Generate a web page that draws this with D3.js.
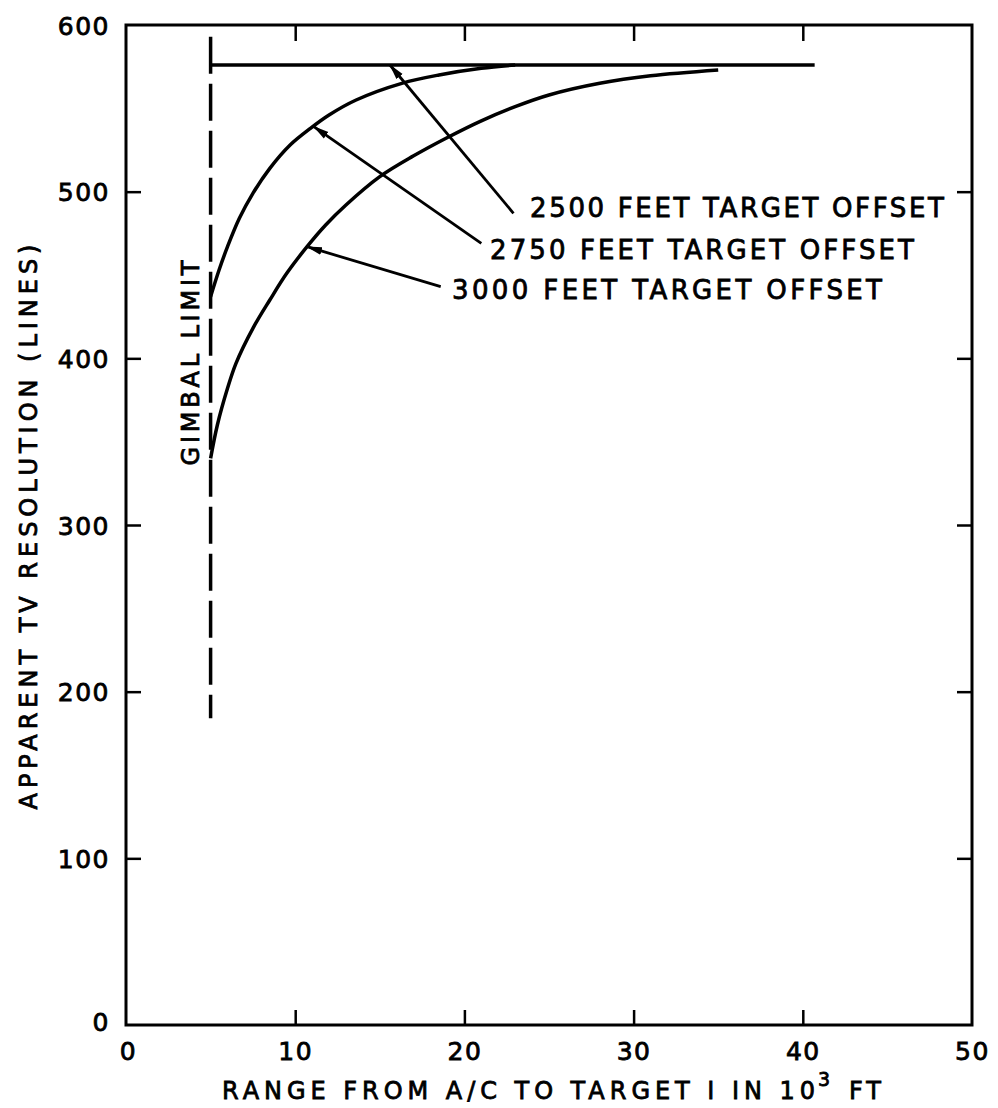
<!DOCTYPE html>
<html>
<head>
<meta charset="utf-8">
<script src="https://cdn.jsdelivr.net/npm/d3@7"></script>
<style>
  html, body { margin: 0; padding: 0; background: #fff; }
  svg text { font-family: 'DejaVu Sans', sans-serif; fill: #000; stroke: #000; stroke-width: 0.8px; }
</style>
</head>
<body>
<div id="chart"></div>
<script>
/** --- DATA --- */

const xTicks = [0, 10, 20, 30, 40, 50];
const yTicks = [0, 100, 200, 300, 400, 500, 600];

// gimbal limit (range in 10^3 ft, resolution span)
const gimbalX = 5;
const gimbalSpan = [184, 593];

// 2500 ft offset: flat at the top
const offset2500X = [5, 40.7];
const offset2500Y = [576, 576];

const offset2750X = [5, 5.5, 6, 6.7, 7.5, 8.5, 9.7, 10.9, 12, 13.6, 16.3, 18.5, 21, 23];
const offset2750Y = [437, 453, 467, 484, 499, 514, 528, 538, 546, 555, 565, 570, 574, 576];

const offset3000X = [5, 5.4, 6, 6.5, 7.5, 8.5, 9.5, 10.7, 11.8, 13, 15, 17, 19, 21, 23, 25, 28, 31, 35];
const offset3000Y = [340, 360, 382, 397, 418, 435, 451, 467, 480, 492, 509, 521.5, 532.5, 542.5, 551, 558, 565, 569.5, 573];

const labels = ['2500 FEET TARGET OFFSET', '2750 FEET TARGET OFFSET', '3000 FEET TARGET OFFSET'];

/** --- DIMENSIONS --- */

const width = 998;
const height = 1108;
const margin = { left: 126, right: 26, top: 25, bottom: 83 };

const svg = d3.select('#chart')
  .append('svg')
  .attr('width', width)
  .attr('height', height);

const defs = svg.append('defs');
defs.append('marker')
  .attr('id', 'head')
  .attr('viewBox', '0 0 16 10')
  .attr('refX', 15)
  .attr('refY', 5)
  .attr('markerWidth', 16)
  .attr('markerHeight', 10)
  .attr('markerUnits', 'userSpaceOnUse')
  .attr('orient', 'auto')
  .append('path')
  .attr('d', 'M0,1 L16,5 L0,9 Z')
  .attr('fill', '#000');

/** --- SCALES --- */

const x = d3.scaleLinear()
  .domain([0, 50])
  .range([margin.left, width - margin.right]);

const y = d3.scaleLinear()
  .domain([0, 600])
  .range([height - margin.bottom, margin.top]);

/** --- AXES --- */

const inner = yTicks.filter(d => d > 0 && d < 600);
const innerX = xTicks.filter(d => d > 0 && d < 50);

// frame
svg.append('rect')
  .attr('x', x(0))
  .attr('y', y(600))
  .attr('width', x(50) - x(0))
  .attr('height', y(0) - y(600))
  .attr('fill', 'none')
  .attr('stroke', '#000')
  .attr('stroke-width', 3);

const gl = svg.append('g')
  .attr('transform', `translate(${x(0)},0)`)
  .call(d3.axisLeft(y).tickValues(yTicks).tickSize(-15).tickPadding(16));

const gb = svg.append('g')
  .attr('transform', `translate(0,${y(0)})`)
  .call(d3.axisBottom(x).tickValues(xTicks).tickSize(-15).tickPadding(17));

svg.append('g')
  .attr('transform', `translate(${x(50)},0)`)
  .call(d3.axisRight(y).tickValues(inner).tickSize(-15).tickFormat(''));

svg.append('g')
  .attr('transform', `translate(0,${y(600)})`)
  .call(d3.axisTop(x).tickValues(innerX).tickSize(-16).tickFormat(''));

svg.selectAll('.domain').remove();
svg.selectAll('.tick line').attr('stroke', '#000').attr('stroke-width', 2.5);
gl.selectAll('.tick').filter(d => d === 0 || d === 600).select('line').remove();
gb.selectAll('.tick').filter(d => d === 0 || d === 50).select('line').remove();

svg.selectAll('.tick text')
  .style('font-family', "'DejaVu Sans', sans-serif")
  .style('font-size', '25px')
  .attr('fill', '#000')
  .attr('letter-spacing', 1.5);

gl.selectAll('.tick text').attr('dy', '0.36em');
gl.selectAll('.tick').filter(d => d === 0).select('text').attr('dy', '0.2em');
gb.selectAll('.tick text').attr('dy', '0.72em');
gb.selectAll('.tick').filter(d => d === 0).select('text').attr('dx', 2);

// axis titles
const xTitle = svg.append('g');
xTitle.append('text')
  .attr('x', 222)
  .attr('y', 1099)
  .attr('textLength', 593)
  .attr('lengthAdjust', 'spacing')
  .style('font-size', '24px')
  .text('RANGE FROM A/C TO TARGET I IN 10');
xTitle.append('text')
  .attr('x', 818)
  .attr('y', 1086)
  .style('font-size', '19px')
  .text('3');
xTitle.append('text')
  .attr('x', 849)
  .attr('y', 1099)
  .attr('textLength', 32)
  .attr('lengthAdjust', 'spacing')
  .style('font-size', '24px')
  .text('FT');

svg.append('text')
  .attr('transform', 'translate(37,527) rotate(-90)')
  .attr('text-anchor', 'middle')
  .attr('textLength', 565)
  .attr('lengthAdjust', 'spacing')
  .style('font-size', '24px')
  .text('APPARENT TV RESOLUTION (LINES)');

/** --- MARKS --- */

svg.append('line')
  .attr('x1', x(gimbalX))
  .attr('x2', x(gimbalX))
  .attr('y1', y(gimbalSpan[1]))
  .attr('y2', y(gimbalSpan[0]))
  .attr('stroke', '#000')
  .attr('stroke-width', 3.5)
  .attr('stroke-dasharray', '37 10');

svg.append('text')
  .attr('transform', `translate(${x(gimbalX) - 12},363) rotate(-90)`)
  .attr('text-anchor', 'middle')
  .attr('textLength', 205)
  .attr('lengthAdjust', 'spacing')
  .style('font-size', '24px')
  .text('GIMBAL LIMIT');

const line = d3.line()
  .x(d => x(d[0]))
  .y(d => y(d[1]))
  .curve(d3.curveCatmullRom.alpha(0.5));

const series = [
  d3.zip(offset2500X, offset2500Y),
  d3.zip(offset2750X, offset2750Y),
  d3.zip(offset3000X, offset3000Y)
];

svg.selectAll('path.curve')
  .data(series)
  .join('path')
  .attr('class', 'curve')
  .attr('d', line)
  .attr('fill', 'none')
  .attr('stroke', '#000')
  .attr('stroke-width', 3.5)
  .attr('stroke-linecap', 'butt');

// leaders: tail (data) -> tip (data)
const leaders = [
  { from: [22.9, 487], to: [15.6, 576] },
  { from: [21.0, 469], to: [11.1, 539] },
  { from: [18.6, 443], to: [10.7, 467] }
];

svg.selectAll('line.leader')
  .data(leaders)
  .join('line')
  .attr('class', 'leader')
  .attr('x1', d => x(d.from[0]))
  .attr('y1', d => y(d.from[1]))
  .attr('x2', d => x(d.to[0]))
  .attr('y2', d => y(d.to[1]))
  .attr('stroke', '#000')
  .attr('stroke-width', 2.8)
  .attr('marker-end', 'url(#head)');

const labelPos = [[530, 208, 414], [490, 250, 424], [452, 290, 430]];

svg.selectAll('text.note')
  .data(labels)
  .join('text')
  .attr('class', 'note')
  .attr('x', (d, i) => labelPos[i][0])
  .attr('y', (d, i) => labelPos[i][1])
  .attr('dy', '0.36em')
  .attr('textLength', (d, i) => labelPos[i][2])
  .attr('lengthAdjust', 'spacing')
  .style('font-size', '26px')
  .text(d => d);
</script>
</body>
</html>
